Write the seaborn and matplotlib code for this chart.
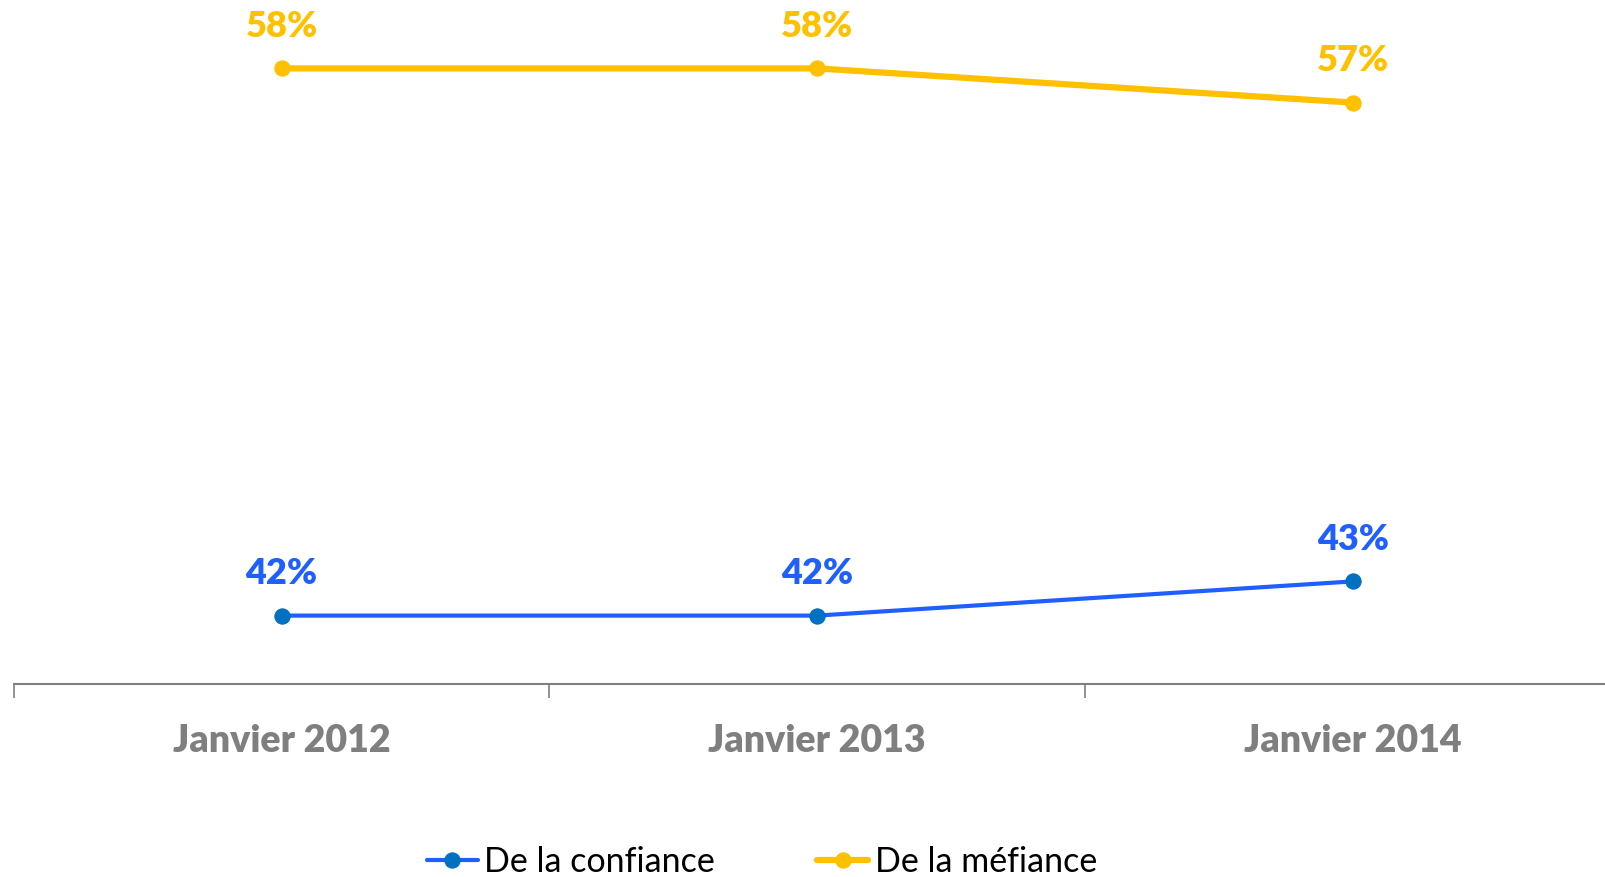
import numpy as np
import pandas as pd
import matplotlib
matplotlib.use("Agg")
import matplotlib.pyplot as plt
import seaborn as sns

periodes = ["Janvier 2012", "Janvier 2013", "Janvier 2014"]
confiance = [42, 42, 43]
mefiance = [58, 58, 57]

sns.set_style("white")
plt.rcParams['font.family'] = ['Lato', 'DejaVu Sans']

df = pd.DataFrame({"x": np.arange(len(periodes)), "confiance": confiance, "mefiance": mefiance})

fig = plt.figure(figsize=(16.06, 8.77), dpi=100)
ax = fig.add_axes([13.7 / 1606, 1 - 684 / 877, 1607 / 1606, 684 / 877])

blue_line = "#1F5FFF"
blue_mark = "#0070C0"
yellow = "#FFC000"

sns.lineplot(data=df, x="x", y="confiance", ax=ax, color=blue_line, linewidth=3,
             marker="o", markersize=11, markerfacecolor=blue_mark, markeredgecolor=blue_mark,
             label="De la confiance")
sns.lineplot(data=df, x="x", y="mefiance", ax=ax, color=yellow, linewidth=4.5,
             marker="o", markersize=11, markerfacecolor=yellow, markeredgecolor=yellow,
             label="De la méfiance")

for i, v in enumerate(confiance):
    ax.annotate(f"{v}%", (i, v), xytext=(0, 30), textcoords="offset points",
                ha="center", va="center", color=blue_line, fontsize=26, fontweight="heavy")
for i, v in enumerate(mefiance):
    ax.annotate(f"{v}%", (i, v), xytext=(0, 30), textcoords="offset points",
                ha="center", va="center", color=yellow, fontsize=26, fontweight="heavy")

ax.set_xlim(-0.5, 2.5)
ax.set_ylim(40, 60)
ax.set_yticks([])
ax.set_xticks([-0.5, 0.5, 1.5, 2.5])
ax.set_xticklabels([])
ax.set_xticks(np.arange(len(periodes)), minor=True)
ax.set_xticklabels(periodes, minor=True, color="#7F7F7F", fontsize=27, fontweight="heavy")
ax.tick_params(axis="x", which="major", length=10, width=1.2, color="#7F7F7F", direction="out", bottom=True)
ax.tick_params(axis="x", which="minor", length=0, pad=29)
ax.set_xlabel("")
ax.set_ylabel("")
for s in ["top", "right", "left"]:
    ax.spines[s].set_visible(False)
ax.spines["bottom"].set_color("#7F7F7F")
ax.spines["bottom"].set_linewidth(1.5)

handles, labels = ax.get_legend_handles_labels()
ax.get_legend().remove()
fig.legend(handles, labels, loc="center", bbox_to_anchor=(762 / 1606, 1 - 862 / 877),
           ncol=2, frameon=False, fontsize=24.5, handlelength=1.5, handletextpad=0.2,
           columnspacing=3.0, labelcolor="black")

fig.savefig("out.png", dpi=100)
